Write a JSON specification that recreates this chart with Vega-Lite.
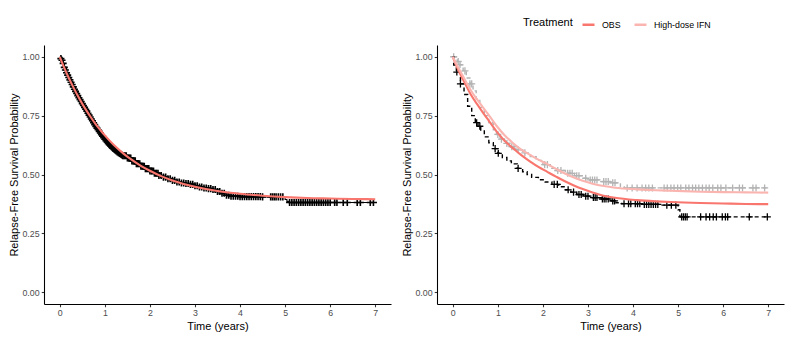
{
  "$schema": "https://vega.github.io/schema/vega-lite/v6.json",
  "padding": {"left": 8, "top": 17, "right": 5, "bottom": 5},
  "bounds": "flush",
  "spacing": 46,
  "config": {
    "view": {"stroke": null},
    "font": "Liberation Sans",
    "axis": {"grid": false, "domainColor": "black", "domainWidth": 1.07, "tickColor": "#333333", "tickWidth": 1.07, "tickSize": 2.75, "labelColor": "#4D4D4D", "labelFontSize": 8.8, "labelPadding": 2.2, "titleFontSize": 11, "titleColor": "black", "titleFontWeight": "normal", "titlePadding": 2.75, "labelFont": "Liberation Sans", "titleFont": "Liberation Sans"},
    "legend": {"titleFontSize": 11, "titleFontWeight": "normal", "titleColor": "black", "labelFontSize": 8.8, "labelColor": "black", "labelFont": "Liberation Sans", "titleFont": "Liberation Sans"}
  },
  "datasets": {
    "km_all": [
      {"t":0,"s":1},{"t":0.03,"s":0.985},{"t":0.06,"s":0.972},{"t":0.1,"s":0.955},{"t":0.15,"s":0.932},{"t":0.2,"s":0.912},{"t":0.25,"s":0.892},{"t":0.3,"s":0.872},{"t":0.35,"s":0.853},{"t":0.4,"s":0.835},{"t":0.45,"s":0.818},{"t":0.5,"s":0.801},{"t":0.55,"s":0.785},{"t":0.6,"s":0.769},{"t":0.65,"s":0.752},{"t":0.7,"s":0.736},{"t":0.75,"s":0.72},{"t":0.8,"s":0.704},{"t":0.85,"s":0.69},{"t":0.9,"s":0.676},{"t":0.95,"s":0.663},{"t":1.0,"s":0.65},{"t":1.05,"s":0.638},{"t":1.1,"s":0.627},{"t":1.15,"s":0.617},{"t":1.2,"s":0.608},{"t":1.25,"s":0.6},{"t":1.3,"s":0.593},{"t":1.35,"s":0.586},{"t":1.4,"s":0.58},{"t":1.5,"s":0.57},{"t":1.6,"s":0.558},{"t":1.7,"s":0.546},{"t":1.8,"s":0.535},{"t":1.9,"s":0.525},{"t":2.0,"s":0.515},{"t":2.1,"s":0.505},{"t":2.2,"s":0.496},{"t":2.3,"s":0.489},{"t":2.4,"s":0.482},{"t":2.5,"s":0.475},{"t":2.6,"s":0.468},{"t":2.7,"s":0.464},{"t":2.8,"s":0.462},{"t":2.9,"s":0.458},{"t":3.0,"s":0.452},{"t":3.1,"s":0.447},{"t":3.2,"s":0.443},{"t":3.3,"s":0.44},{"t":3.4,"s":0.436},{"t":3.5,"s":0.428},{"t":3.6,"s":0.42},{"t":3.7,"s":0.412},{"t":3.8,"s":0.408},{"t":4.0,"s":0.406},{"t":4.5,"s":0.405},{"t":4.96,"s":0.404},{"t":5.0,"s":0.394},{"t":5.04,"s":0.386},{"t":5.08,"s":0.381},{"t":7.0,"s":0.381}
    ],
    "cens_all": [
      {"t":0.025,"s":0.992},{"t":0.05,"s":0.985},{"t":0.075,"s":0.972},{"t":0.1,"s":0.955},{"t":0.125,"s":0.944},{"t":0.15,"s":0.932},{"t":0.175,"s":0.922},{"t":0.2,"s":0.912},{"t":0.225,"s":0.902},{"t":0.25,"s":0.892},{"t":0.275,"s":0.882},{"t":0.3,"s":0.872},{"t":0.325,"s":0.862},{"t":0.35,"s":0.853},{"t":0.375,"s":0.844},{"t":0.4,"s":0.835},{"t":0.425,"s":0.826},{"t":0.45,"s":0.818},{"t":0.475,"s":0.81},{"t":0.5,"s":0.801},{"t":0.525,"s":0.793},{"t":0.55,"s":0.785},{"t":0.575,"s":0.777},{"t":0.6,"s":0.769},{"t":0.625,"s":0.76},{"t":0.65,"s":0.752},{"t":0.675,"s":0.744},{"t":0.7,"s":0.736},{"t":0.725,"s":0.728},{"t":0.75,"s":0.72},{"t":0.775,"s":0.712},{"t":0.8,"s":0.704},{"t":0.825,"s":0.697},{"t":0.85,"s":0.69},{"t":0.875,"s":0.683},{"t":0.9,"s":0.676},{"t":0.925,"s":0.669},{"t":0.95,"s":0.663},{"t":0.975,"s":0.656},{"t":1.0,"s":0.65},{"t":1.025,"s":0.644},{"t":1.05,"s":0.638},{"t":1.075,"s":0.632},{"t":1.1,"s":0.627},{"t":1.125,"s":0.622},{"t":1.15,"s":0.617},{"t":1.175,"s":0.612},{"t":1.2,"s":0.608},{"t":1.225,"s":0.604},{"t":1.25,"s":0.6},{"t":1.275,"s":0.596},{"t":1.3,"s":0.593},{"t":1.325,"s":0.589},{"t":1.35,"s":0.586},{"t":1.375,"s":0.583},{"t":1.4,"s":0.58},{"t":1.425,"s":0.58},{"t":1.45,"s":0.58},{"t":1.475,"s":0.58},{"t":1.5,"s":0.57},{"t":1.525,"s":0.57},{"t":1.55,"s":0.57},{"t":1.575,"s":0.57},{"t":1.6,"s":0.558},{"t":1.625,"s":0.558},{"t":1.65,"s":0.558},{"t":1.675,"s":0.558},{"t":1.7,"s":0.546},{"t":1.725,"s":0.546},{"t":1.75,"s":0.546},{"t":1.775,"s":0.546},{"t":1.8,"s":0.535},{"t":1.825,"s":0.535},{"t":1.85,"s":0.535},{"t":1.875,"s":0.535},{"t":1.9,"s":0.525},{"t":1.925,"s":0.525},{"t":1.95,"s":0.525},{"t":1.975,"s":0.525},{"t":2.0,"s":0.515},{"t":2.03,"s":0.515},{"t":2.05,"s":0.515},{"t":2.08,"s":0.515},{"t":2.1,"s":0.505},{"t":2.13,"s":0.505},{"t":2.15,"s":0.505},{"t":2.18,"s":0.505},{"t":2.2,"s":0.496},{"t":2.25,"s":0.496},{"t":2.3,"s":0.489},{"t":2.35,"s":0.489},{"t":2.4,"s":0.482},{"t":2.45,"s":0.482},{"t":2.5,"s":0.475},{"t":2.55,"s":0.475},{"t":2.6,"s":0.468},{"t":2.65,"s":0.468},{"t":2.7,"s":0.464},{"t":2.75,"s":0.464},{"t":2.8,"s":0.462},{"t":2.85,"s":0.462},{"t":2.9,"s":0.458},{"t":2.95,"s":0.458},{"t":3.0,"s":0.452},{"t":3.05,"s":0.452},{"t":3.1,"s":0.447},{"t":3.15,"s":0.447},{"t":3.2,"s":0.443},{"t":3.25,"s":0.443},{"t":3.3,"s":0.44},{"t":3.35,"s":0.44},{"t":3.4,"s":0.436},{"t":3.45,"s":0.436},{"t":3.5,"s":0.428},{"t":3.55,"s":0.428},{"t":3.6,"s":0.42},{"t":3.65,"s":0.42},{"t":3.7,"s":0.412},{"t":3.75,"s":0.412},{"t":3.8,"s":0.408},{"t":3.85,"s":0.408},{"t":3.9,"s":0.408},{"t":3.95,"s":0.408},{"t":4.0,"s":0.406},{"t":4.05,"s":0.406},{"t":4.1,"s":0.406},{"t":4.15,"s":0.406},{"t":4.2,"s":0.406},{"t":4.25,"s":0.406},{"t":4.3,"s":0.406},{"t":4.35,"s":0.406},{"t":4.4,"s":0.406},{"t":4.45,"s":0.406},{"t":4.5,"s":0.405},{"t":4.68,"s":0.405},{"t":4.72,"s":0.405},{"t":4.76,"s":0.405},{"t":4.8,"s":0.405},{"t":4.85,"s":0.405},{"t":4.9,"s":0.405},{"t":4.95,"s":0.405},{"t":5.1,"s":0.381},{"t":5.15,"s":0.381},{"t":5.2,"s":0.381},{"t":5.25,"s":0.381},{"t":5.3,"s":0.381},{"t":5.35,"s":0.381},{"t":5.4,"s":0.381},{"t":5.45,"s":0.381},{"t":5.5,"s":0.381},{"t":5.55,"s":0.381},{"t":5.6,"s":0.381},{"t":5.65,"s":0.381},{"t":5.7,"s":0.381},{"t":5.75,"s":0.381},{"t":5.8,"s":0.381},{"t":5.85,"s":0.381},{"t":5.9,"s":0.381},{"t":5.95,"s":0.381},{"t":6.0,"s":0.381},{"t":6.1,"s":0.381},{"t":6.15,"s":0.381},{"t":6.29,"s":0.381},{"t":6.38,"s":0.381},{"t":6.6,"s":0.381},{"t":6.67,"s":0.381},{"t":6.89,"s":0.381},{"t":6.96,"s":0.381}
    ],
    "fit_all": [
      {"t":0,"s":1},{"t":0.1,"s":0.953},{"t":0.2,"s":0.91},{"t":0.3,"s":0.871},{"t":0.4,"s":0.834},{"t":0.5,"s":0.8},{"t":0.6,"s":0.769},{"t":0.7,"s":0.74},{"t":0.8,"s":0.713},{"t":0.9,"s":0.689},{"t":1.0,"s":0.666},{"t":1.2,"s":0.625},{"t":1.4,"s":0.591},{"t":1.6,"s":0.562},{"t":1.8,"s":0.537},{"t":2.0,"s":0.516},{"t":2.25,"s":0.493},{"t":2.5,"s":0.475},{"t":2.75,"s":0.46},{"t":3.0,"s":0.448},{"t":3.5,"s":0.43},{"t":4.0,"s":0.418},{"t":4.5,"s":0.41},{"t":5.0,"s":0.404},{"t":5.5,"s":0.4},{"t":6.0,"s":0.398},{"t":6.5,"s":0.396},{"t":7.0,"s":0.395}
    ],
    "km_arm": [
      {"arm":"OBS","t":0,"s":1},{"arm":"OBS","t":0.02,"s":0.965},{"arm":"OBS","t":0.08,"s":0.935},{"arm":"OBS","t":0.17,"s":0.885},{"arm":"OBS","t":0.25,"s":0.84},{"arm":"OBS","t":0.33,"s":0.79},{"arm":"OBS","t":0.42,"s":0.75},{"arm":"OBS","t":0.5,"s":0.72},{"arm":"OBS","t":0.56,"s":0.705},{"arm":"OBS","t":0.62,"s":0.685},{"arm":"OBS","t":0.7,"s":0.66},{"arm":"OBS","t":0.8,"s":0.635},{"arm":"OBS","t":0.9,"s":0.61},{"arm":"OBS","t":1.0,"s":0.59},{"arm":"OBS","t":1.1,"s":0.572},{"arm":"OBS","t":1.2,"s":0.558},{"arm":"OBS","t":1.3,"s":0.545},{"arm":"OBS","t":1.43,"s":0.526},{"arm":"OBS","t":1.55,"s":0.512},{"arm":"OBS","t":1.65,"s":0.5},{"arm":"OBS","t":1.75,"s":0.488},{"arm":"OBS","t":1.9,"s":0.478},{"arm":"OBS","t":2.05,"s":0.468},{"arm":"OBS","t":2.2,"s":0.458},{"arm":"OBS","t":2.35,"s":0.448},{"arm":"OBS","t":2.5,"s":0.435},{"arm":"OBS","t":2.62,"s":0.425},{"arm":"OBS","t":2.75,"s":0.415},{"arm":"OBS","t":2.9,"s":0.408},{"arm":"OBS","t":3.1,"s":0.402},{"arm":"OBS","t":3.3,"s":0.396},{"arm":"OBS","t":3.5,"s":0.388},{"arm":"OBS","t":3.62,"s":0.38},{"arm":"OBS","t":3.75,"s":0.376},{"arm":"OBS","t":4.2,"s":0.373},{"arm":"OBS","t":4.6,"s":0.37},{"arm":"OBS","t":5.0,"s":0.35},{"arm":"OBS","t":5.04,"s":0.32},{"arm":"OBS","t":7.0,"s":0.32},
      {"arm":"High-dose IFN","t":0,"s":1},{"arm":"High-dose IFN","t":0.1,"s":0.98},{"arm":"High-dose IFN","t":0.16,"s":0.966},{"arm":"High-dose IFN","t":0.23,"s":0.94},{"arm":"High-dose IFN","t":0.3,"s":0.91},{"arm":"High-dose IFN","t":0.38,"s":0.885},{"arm":"High-dose IFN","t":0.45,"s":0.855},{"arm":"High-dose IFN","t":0.52,"s":0.82},{"arm":"High-dose IFN","t":0.6,"s":0.785},{"arm":"High-dose IFN","t":0.7,"s":0.75},{"arm":"High-dose IFN","t":0.8,"s":0.72},{"arm":"High-dose IFN","t":0.9,"s":0.69},{"arm":"High-dose IFN","t":0.97,"s":0.67},{"arm":"High-dose IFN","t":1.05,"s":0.65},{"arm":"High-dose IFN","t":1.15,"s":0.632},{"arm":"High-dose IFN","t":1.27,"s":0.618},{"arm":"High-dose IFN","t":1.4,"s":0.605},{"arm":"High-dose IFN","t":1.55,"s":0.592},{"arm":"High-dose IFN","t":1.72,"s":0.576},{"arm":"High-dose IFN","t":1.85,"s":0.56},{"arm":"High-dose IFN","t":2.0,"s":0.542},{"arm":"High-dose IFN","t":2.16,"s":0.526},{"arm":"High-dose IFN","t":2.3,"s":0.517},{"arm":"High-dose IFN","t":2.5,"s":0.505},{"arm":"High-dose IFN","t":2.7,"s":0.495},{"arm":"High-dose IFN","t":2.9,"s":0.484},{"arm":"High-dose IFN","t":3.0,"s":0.477},{"arm":"High-dose IFN","t":3.3,"s":0.47},{"arm":"High-dose IFN","t":3.5,"s":0.465},{"arm":"High-dose IFN","t":3.72,"s":0.448},{"arm":"High-dose IFN","t":3.8,"s":0.443},{"arm":"High-dose IFN","t":7.0,"s":0.443}
    ],
    "cens_arm": [
      {"arm":"OBS","t":0.09,"s":0.935},{"arm":"OBS","t":0.17,"s":0.885},{"arm":"OBS","t":0.53,"s":0.72},{"arm":"OBS","t":0.6,"s":0.705},{"arm":"OBS","t":0.94,"s":0.61},{"arm":"OBS","t":1.01,"s":0.59},{"arm":"OBS","t":1.45,"s":0.526},{"arm":"OBS","t":2.25,"s":0.458},{"arm":"OBS","t":2.32,"s":0.458},{"arm":"OBS","t":2.56,"s":0.435},{"arm":"OBS","t":2.68,"s":0.425},{"arm":"OBS","t":2.8,"s":0.415},{"arm":"OBS","t":2.85,"s":0.415},{"arm":"OBS","t":2.95,"s":0.408},{"arm":"OBS","t":3.0,"s":0.408},{"arm":"OBS","t":3.12,"s":0.402},{"arm":"OBS","t":3.16,"s":0.402},{"arm":"OBS","t":3.2,"s":0.402},{"arm":"OBS","t":3.32,"s":0.396},{"arm":"OBS","t":3.36,"s":0.396},{"arm":"OBS","t":3.4,"s":0.396},{"arm":"OBS","t":3.45,"s":0.396},{"arm":"OBS","t":3.55,"s":0.388},{"arm":"OBS","t":3.59,"s":0.388},{"arm":"OBS","t":3.8,"s":0.376},{"arm":"OBS","t":3.9,"s":0.376},{"arm":"OBS","t":3.95,"s":0.376},{"arm":"OBS","t":4.05,"s":0.376},{"arm":"OBS","t":4.1,"s":0.376},{"arm":"OBS","t":4.15,"s":0.376},{"arm":"OBS","t":4.25,"s":0.373},{"arm":"OBS","t":4.3,"s":0.373},{"arm":"OBS","t":4.35,"s":0.373},{"arm":"OBS","t":4.4,"s":0.373},{"arm":"OBS","t":4.45,"s":0.373},{"arm":"OBS","t":4.5,"s":0.373},{"arm":"OBS","t":4.55,"s":0.373},{"arm":"OBS","t":4.75,"s":0.37},{"arm":"OBS","t":4.85,"s":0.37},{"arm":"OBS","t":4.95,"s":0.37},{"arm":"OBS","t":5.08,"s":0.32},{"arm":"OBS","t":5.12,"s":0.32},{"arm":"OBS","t":5.16,"s":0.32},{"arm":"OBS","t":5.2,"s":0.32},{"arm":"OBS","t":5.5,"s":0.32},{"arm":"OBS","t":5.62,"s":0.32},{"arm":"OBS","t":5.7,"s":0.32},{"arm":"OBS","t":5.78,"s":0.32},{"arm":"OBS","t":5.85,"s":0.32},{"arm":"OBS","t":5.98,"s":0.32},{"arm":"OBS","t":6.05,"s":0.32},{"arm":"OBS","t":6.1,"s":0.32},{"arm":"OBS","t":6.58,"s":0.32},{"arm":"OBS","t":6.98,"s":0.32},
      {"arm":"High-dose IFN","t":0.02,"s":1},{"arm":"High-dose IFN","t":0.12,"s":0.98},{"arm":"High-dose IFN","t":0.16,"s":0.966},{"arm":"High-dose IFN","t":0.27,"s":0.94},{"arm":"High-dose IFN","t":0.38,"s":0.885},{"arm":"High-dose IFN","t":0.42,"s":0.885},{"arm":"High-dose IFN","t":1.0,"s":0.67},{"arm":"High-dose IFN","t":1.08,"s":0.65},{"arm":"High-dose IFN","t":1.2,"s":0.632},{"arm":"High-dose IFN","t":1.31,"s":0.618},{"arm":"High-dose IFN","t":1.36,"s":0.618},{"arm":"High-dose IFN","t":1.45,"s":0.605},{"arm":"High-dose IFN","t":1.6,"s":0.592},{"arm":"High-dose IFN","t":2.04,"s":0.542},{"arm":"High-dose IFN","t":2.1,"s":0.542},{"arm":"High-dose IFN","t":2.33,"s":0.517},{"arm":"High-dose IFN","t":2.4,"s":0.517},{"arm":"High-dose IFN","t":2.55,"s":0.505},{"arm":"High-dose IFN","t":2.6,"s":0.505},{"arm":"High-dose IFN","t":2.65,"s":0.505},{"arm":"High-dose IFN","t":2.75,"s":0.495},{"arm":"High-dose IFN","t":2.8,"s":0.495},{"arm":"High-dose IFN","t":2.95,"s":0.484},{"arm":"High-dose IFN","t":3.05,"s":0.477},{"arm":"High-dose IFN","t":3.1,"s":0.477},{"arm":"High-dose IFN","t":3.15,"s":0.477},{"arm":"High-dose IFN","t":3.2,"s":0.477},{"arm":"High-dose IFN","t":3.35,"s":0.47},{"arm":"High-dose IFN","t":3.4,"s":0.47},{"arm":"High-dose IFN","t":3.45,"s":0.47},{"arm":"High-dose IFN","t":3.55,"s":0.465},{"arm":"High-dose IFN","t":3.6,"s":0.465},{"arm":"High-dose IFN","t":3.87,"s":0.443},{"arm":"High-dose IFN","t":3.98,"s":0.443},{"arm":"High-dose IFN","t":4.09,"s":0.443},{"arm":"High-dose IFN","t":4.2,"s":0.443},{"arm":"High-dose IFN","t":4.28,"s":0.443},{"arm":"High-dose IFN","t":4.35,"s":0.443},{"arm":"High-dose IFN","t":4.43,"s":0.443},{"arm":"High-dose IFN","t":4.69,"s":0.443},{"arm":"High-dose IFN","t":4.76,"s":0.443},{"arm":"High-dose IFN","t":4.84,"s":0.443},{"arm":"High-dose IFN","t":4.91,"s":0.443},{"arm":"High-dose IFN","t":4.99,"s":0.443},{"arm":"High-dose IFN","t":5.06,"s":0.443},{"arm":"High-dose IFN","t":5.17,"s":0.443},{"arm":"High-dose IFN","t":5.24,"s":0.443},{"arm":"High-dose IFN","t":5.32,"s":0.443},{"arm":"High-dose IFN","t":5.39,"s":0.443},{"arm":"High-dose IFN","t":5.46,"s":0.443},{"arm":"High-dose IFN","t":5.54,"s":0.443},{"arm":"High-dose IFN","t":5.62,"s":0.443},{"arm":"High-dose IFN","t":5.69,"s":0.443},{"arm":"High-dose IFN","t":5.77,"s":0.443},{"arm":"High-dose IFN","t":5.88,"s":0.443},{"arm":"High-dose IFN","t":5.95,"s":0.443},{"arm":"High-dose IFN","t":6.06,"s":0.443},{"arm":"High-dose IFN","t":6.21,"s":0.443},{"arm":"High-dose IFN","t":6.36,"s":0.443},{"arm":"High-dose IFN","t":6.43,"s":0.443},{"arm":"High-dose IFN","t":6.66,"s":0.443},{"arm":"High-dose IFN","t":6.73,"s":0.443},{"arm":"High-dose IFN","t":6.92,"s":0.443}
    ],
    "fit_arm": [
      {"arm":"OBS","t":0,"s":1},{"arm":"OBS","t":0.1,"s":0.953},{"arm":"OBS","t":0.23,"s":0.902},{"arm":"OBS","t":0.4,"s":0.84},{"arm":"OBS","t":0.6,"s":0.782},{"arm":"OBS","t":0.8,"s":0.728},{"arm":"OBS","t":0.974,"s":0.682},{"arm":"OBS","t":1.15,"s":0.643},{"arm":"OBS","t":1.34,"s":0.611},{"arm":"OBS","t":1.52,"s":0.582},{"arm":"OBS","t":1.72,"s":0.555},{"arm":"OBS","t":1.9,"s":0.532},{"arm":"OBS","t":2.09,"s":0.512},{"arm":"OBS","t":2.3,"s":0.49},{"arm":"OBS","t":2.5,"s":0.47},{"arm":"OBS","t":2.7,"s":0.452},{"arm":"OBS","t":2.9,"s":0.437},{"arm":"OBS","t":3.1,"s":0.424},{"arm":"OBS","t":3.35,"s":0.41},{"arm":"OBS","t":3.6,"s":0.401},{"arm":"OBS","t":4.09,"s":0.391},{"arm":"OBS","t":4.5,"s":0.386},{"arm":"OBS","t":4.84,"s":0.383},{"arm":"OBS","t":5.5,"s":0.379},{"arm":"OBS","t":6.0,"s":0.377},{"arm":"OBS","t":6.5,"s":0.375},{"arm":"OBS","t":7.0,"s":0.374},
      {"arm":"High-dose IFN","t":0,"s":1},{"arm":"High-dose IFN","t":0.1,"s":0.962},{"arm":"High-dose IFN","t":0.23,"s":0.916},{"arm":"High-dose IFN","t":0.4,"s":0.858},{"arm":"High-dose IFN","t":0.6,"s":0.803},{"arm":"High-dose IFN","t":0.8,"s":0.752},{"arm":"High-dose IFN","t":0.974,"s":0.706},{"arm":"High-dose IFN","t":1.15,"s":0.667},{"arm":"High-dose IFN","t":1.34,"s":0.633},{"arm":"High-dose IFN","t":1.52,"s":0.606},{"arm":"High-dose IFN","t":1.72,"s":0.583},{"arm":"High-dose IFN","t":1.9,"s":0.563},{"arm":"High-dose IFN","t":2.09,"s":0.545},{"arm":"High-dose IFN","t":2.3,"s":0.523},{"arm":"High-dose IFN","t":2.5,"s":0.503},{"arm":"High-dose IFN","t":2.7,"s":0.486},{"arm":"High-dose IFN","t":2.9,"s":0.472},{"arm":"High-dose IFN","t":3.1,"s":0.461},{"arm":"High-dose IFN","t":3.35,"s":0.451},{"arm":"High-dose IFN","t":3.6,"s":0.444},{"arm":"High-dose IFN","t":4.09,"s":0.437},{"arm":"High-dose IFN","t":4.5,"s":0.433},{"arm":"High-dose IFN","t":4.84,"s":0.431},{"arm":"High-dose IFN","t":5.5,"s":0.427},{"arm":"High-dose IFN","t":6.0,"s":0.425},{"arm":"High-dose IFN","t":6.5,"s":0.424},{"arm":"High-dose IFN","t":7.0,"s":0.423}
    ]
  },
  "hconcat": [
    {
      "width": 347, "height": 259,
      "encoding": {
        "x": {"field": "t", "type": "quantitative", "scale": {"domain": [-0.35, 7.35], "nice": false, "zero": false}, "axis": {"values": [0,1,2,3,4,5,6,7], "title": "Time (years)"}},
        "y": {"field": "s", "type": "quantitative", "scale": {"domain": [-0.05, 1.05], "nice": false, "zero": false}, "axis": {"values": [0,0.25,0.5,0.75,1], "format": ".2f", "title": "Relapse-Free Survival Probability"}}
      },
      "layer": [
        {"data": {"name": "km_all"}, "mark": {"type": "line", "interpolate": "step-after", "color": "black", "strokeWidth": 1.1}},
        {"data": {"name": "cens_all"}, "mark": {"type": "point", "shape": "M-1,0H1M0,-1V1", "filled": false, "stroke": "black", "strokeWidth": 1.6, "size": 50, "opacity": 1}},
        {"data": {"name": "fit_all"}, "mark": {"type": "line", "interpolate": "monotone", "color": "#F8766D", "strokeWidth": 2.1}}
      ]
    },
    {
      "width": 347, "height": 259,
      "encoding": {
        "x": {"field": "t", "type": "quantitative", "scale": {"domain": [-0.35, 7.35], "nice": false, "zero": false}, "axis": {"values": [0,1,2,3,4,5,6,7], "title": "Time (years)"}},
        "y": {"field": "s", "type": "quantitative", "scale": {"domain": [-0.05, 1.05], "nice": false, "zero": false}, "axis": {"values": [0,0.25,0.5,0.75,1], "format": ".2f", "title": "Relapse-Free Survival Probability"}}
      },
      "layer": [
        {"data": {"name": "km_arm"}, "transform": [{"filter": "datum.arm == 'High-dose IFN'"}], "mark": {"type": "line", "interpolate": "step-after", "color": "#B3B3B3", "strokeWidth": 1.4, "strokeDash": [4, 3]}},
        {"data": {"name": "cens_arm"}, "transform": [{"filter": "datum.arm == 'High-dose IFN'"}], "mark": {"type": "point", "shape": "M-1,0H1M0,-1V1", "filled": false, "stroke": "#B3B3B3", "strokeWidth": 1.3, "size": 50, "opacity": 1}},
        {"data": {"name": "km_arm"}, "transform": [{"filter": "datum.arm == 'OBS'"}], "mark": {"type": "line", "interpolate": "step-after", "color": "black", "strokeWidth": 1.4, "strokeDash": [4, 3]}},
        {"data": {"name": "cens_arm"}, "transform": [{"filter": "datum.arm == 'OBS'"}], "mark": {"type": "point", "shape": "M-1,0H1M0,-1V1", "filled": false, "stroke": "black", "strokeWidth": 1.3, "size": 50, "opacity": 1}},
        {"data": {"name": "fit_arm"}, "mark": {"type": "line", "interpolate": "monotone", "strokeWidth": 2.1},
         "encoding": {"color": {"field": "arm", "type": "nominal", "scale": {"domain": ["OBS", "High-dose IFN"], "range": ["#F8766D", "#FAB5B0"]},
           "legend": {"title": "Treatment", "orient": "none", "legendX": 479, "legendY": -28, "direction": "horizontal", "titleOrient": "left", "symbolType": "stroke", "symbolSize": 144, "symbolStrokeWidth": 2.5, "labelOffset": 6, "columnPadding": 8, "titlePadding": 8}}}}
      ]
    }
  ]
}
